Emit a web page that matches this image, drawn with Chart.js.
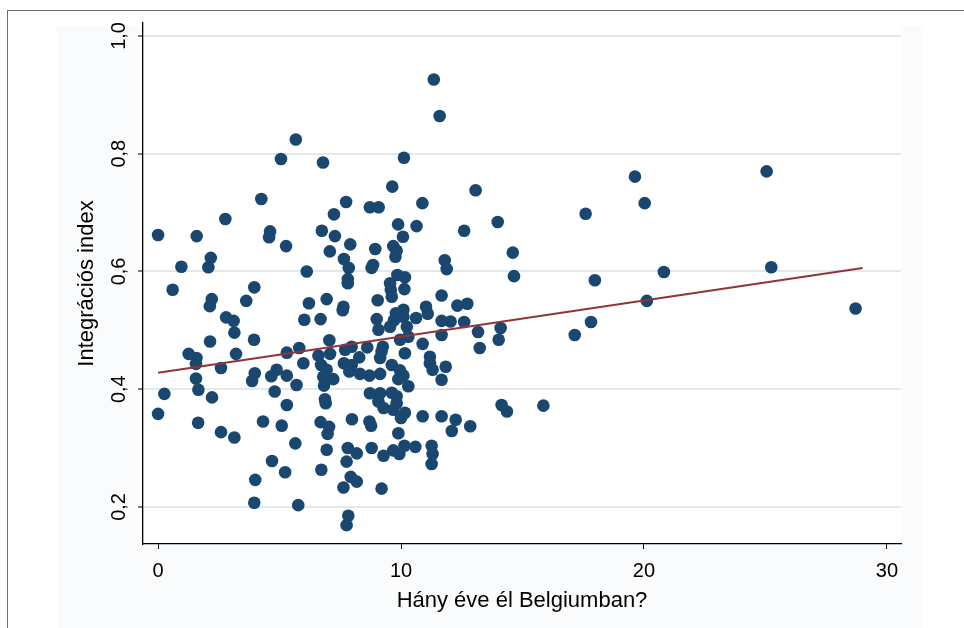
<!DOCTYPE html>
<html>
<head>
<meta charset="utf-8">
<script src="https://cdn.jsdelivr.net/npm/chart.js@4.4.1/dist/chart.umd.min.js"></script>
<style>
  html, body { margin: 0; padding: 0; background: #fff; }
  #wrap { position: relative; width: 964px; height: 628px; overflow: hidden; }
  #frame { position: absolute; left: 7px; top: 10px; right: -2px; bottom: -2px; border-top: 1px solid #6e6e6e; border-left: 1px solid #6e6e6e; }
  #tint { position: absolute; left: 57px; top: 26px; width: 866px; height: 602px; background: #f9fbfc; }
  canvas { position: absolute; left: 0; top: 0; }
</style>
</head>
<body>
<div id="wrap">
  <div id="frame"></div>
  <div id="tint"></div>
  <canvas id="chart" width="964" height="628"></canvas>
</div>
<script>
// tengelyek
const xTicks = [0, 10, 20, 30];
const yTicks = [0.2, 0.4, 0.6, 0.8, 1.0];

// Hány éve él Belgiumban?
const years = [
  13.07, 12.6, 13.98, 14.6, 14.65, 11.8, 11.88, 11.67, 12.32, 12.73, 11.67, 12.04, 12.6, 13.17, 14.1, 14.02, 13.24, 11.67, 11.84, 11.67,
  14.14, 14.36, 15.86, 11.67, 12.25, 12.09, 12.85, 17.15, 17.82, 17.6, 17.98, 19.63, 20.03, 20.82, 20.12, 25.05, 25.24, 28.71,
  5.67, 5.06, 4.25, 2.77, 0, 1.59, 4.61, 4.57, 5.27, 2.17,
  2.07, 0.96, 0.6, 3.96, 3.63, 2.21, 2.13, 2.8, 3.11, 3.14, 2.14, 3.95, 3.21, 1.26, 1.58, 1.56, 2.59, 1.56, 1.66, 2.22,
  0.26, 0, 1.65, 2.59, 3.14, 3.98, 3.87, 4.66, 4.88, 5.3, 5.3, 4.8, 5.3, 4.32, 5.09, 5.65, 4.69, 5.23, 4.0, 3.96, 5.77, 5.7,
  11.35, 11.59, 10.12, 6.79, 9.64, 7.74, 8.72, 9.08, 10.88, 7.24, 9.88, 10.64, 6.74, 7.28, 10.08, 7.91, 7.07, 8.94, 9.68, 9.82, 9.77, 7.65,
  7.85, 7.81, 7.81, 6.12, 8.79, 8.85, 9.85, 10.16, 9.55, 9.58, 10.14, 9.62, 6.94, 6.21, 9.04, 7.63, 7.6, 6.02, 6.69, 9.0,
  9.07, 9.79, 9.71, 10.1, 10.1, 10.24, 10.62, 11.03, 11.1, 9.55, 9.96, 10.3, 10.89, 10.16, 11.19, 11.19, 11.3, 7.05, 5.81, 6.6,
  7.08, 7.7, 7.97, 8.61, 9.25, 9.2, 8.28, 9.14, 5.98, 6.71, 7.65, 7.97, 9.62, 6.94, 7.87, 8.31, 8.7, 9.14, 9.96, 10.1,
  6.8, 7.21, 6.83, 9.89, 10.3, 8.72, 9.14, 9.62, 9.82, 6.87,
  6.9, 9.07, 9.28, 9.68, 9.82, 10.16, 10.0, 10.89, 6.69, 7.04, 6.98, 7.98, 8.7, 8.77, 9.89, 6.94, 7.81, 8.18, 8.79, 9.28,
  9.68, 9.93, 10.14, 10.59, 11.26, 11.3, 11.26, 7.76, 6.72, 7.93, 8.18, 7.63, 9.2, 7.83, 7.76
];

// Integrációs index
const integration = [
  0.738, 0.669, 0.684, 0.632, 0.592, 0.619, 0.604, 0.559, 0.542, 0.545, 0.516, 0.515, 0.514, 0.497, 0.504, 0.484, 0.470, 0.492, 0.438, 0.416,
  0.373, 0.362, 0.372, 0.354, 0.348, 0.329, 0.337, 0.492, 0.514, 0.698, 0.585, 0.761, 0.716, 0.599, 0.550, 0.770, 0.607, 0.537,
  0.824, 0.791, 0.723, 0.689, 0.662, 0.660, 0.668, 0.658, 0.643, 0.623,
  0.607, 0.608, 0.569, 0.573, 0.550, 0.553, 0.541, 0.522, 0.516, 0.496, 0.481, 0.484, 0.460, 0.460, 0.453, 0.443, 0.436, 0.418, 0.399, 0.386,
  0.392, 0.358, 0.343, 0.327, 0.318, 0.427, 0.414, 0.422, 0.433, 0.423, 0.462, 0.396, 0.373, 0.345, 0.338, 0.308, 0.278, 0.259, 0.246, 0.207, 0.203, 0.407,
  0.926, 0.864, 0.793, 0.785, 0.744, 0.718, 0.709, 0.709, 0.716, 0.697, 0.680, 0.677, 0.669, 0.660, 0.659, 0.646, 0.634, 0.638, 0.643, 0.635, 0.625, 0.621,
  0.606, 0.587, 0.580, 0.600, 0.606, 0.611, 0.594, 0.590, 0.580, 0.569, 0.570, 0.557, 0.553, 0.546, 0.551, 0.540, 0.534, 0.518, 0.519, 0.519,
  0.501, 0.529, 0.517, 0.535, 0.523, 0.506, 0.521, 0.540, 0.528, 0.506, 0.484, 0.489, 0.477, 0.461, 0.455, 0.444, 0.433, 0.483, 0.470, 0.457,
  0.460, 0.467, 0.472, 0.471, 0.472, 0.464, 0.454, 0.453, 0.444, 0.441, 0.444, 0.441, 0.441, 0.433, 0.430, 0.426, 0.423, 0.426, 0.432, 0.423,
  0.421, 0.417, 0.406, 0.417, 0.405, 0.393, 0.393, 0.394, 0.388, 0.383,
  0.376, 0.379, 0.368, 0.365, 0.376, 0.360, 0.351, 0.354, 0.344, 0.336, 0.324, 0.349, 0.345, 0.338, 0.325, 0.297, 0.300, 0.291, 0.300, 0.287,
  0.296, 0.290, 0.304, 0.302, 0.304, 0.290, 0.273, 0.277, 0.263, 0.251, 0.243, 0.233, 0.231, 0.185, 0.169
];

// illesztett egyenes (lfit) végpontjai
const fitX = [0, 29];
const fitY = [0.428, 0.606];

const tickFont = { family: "'Liberation Sans', Arial, sans-serif", size: 20 };
const titleFont = { family: "'Liberation Sans', Arial, sans-serif", size: 22 };

// a rajzterület fehér
const plotBg = {
  id: 'plotBg',
  beforeDraw(chart) {
    const { ctx, chartArea: a } = chart;
    ctx.save();
    ctx.fillStyle = '#ffffff';
    ctx.fillRect(a.left, a.top, a.right - a.left, a.bottom - a.top);
    ctx.restore();
  }
};

new Chart(document.getElementById('chart'), {
  type: 'scatter',
  data: {
    datasets: [
      {
        type: 'line',
        data: fitX.map((x, i) => ({ x: x, y: fitY[i] })),
        borderColor: '#90353b',
        borderWidth: 2,
        pointRadius: 0,
        fill: false,
        order: 0
      },
      {
        data: years.map((x, i) => ({ x: x, y: integration[i] })),
        backgroundColor: '#1a476f',
        borderWidth: 0,
        pointRadius: 6.3,
        pointHoverRadius: 6.3,
        order: 1
      }
    ]
  },
  options: {
    responsive: false,
    animation: false,
    devicePixelRatio: 1,
    layout: { padding: { top: 23, right: 63, left: 0, bottom: 0 } },
    plugins: { legend: { display: false }, tooltip: { enabled: false } },
    scales: {
      x: {
        type: 'linear',
        min: -0.62,
        max: 30.58,
        afterBuildTicks: s => { s.ticks = xTicks.map(v => ({ value: v })); },
        afterFit: s => { s.height = 84; },
        ticks: { color: '#000', font: tickFont, padding: 10, maxRotation: 0, autoSkip: false },
        grid: { drawOnChartArea: false, tickLength: 5, tickColor: '#000', tickWidth: 1 },
        border: { color: '#000', width: 1.3 },
        title: { display: true, text: 'Hány éve él Belgiumban?', color: '#000', font: titleFont, padding: { top: 0, bottom: 14 } }
      },
      y: {
        type: 'linear',
        min: 0.137,
        max: 1.022,
        afterBuildTicks: s => { s.ticks = yTicks.map(v => ({ value: v })); },
        afterFit: s => { s.width = 143; },
        ticks: {
          color: '#000', font: tickFont, padding: 5,
          minRotation: 90, maxRotation: 90, crossAlign: 'center', autoSkip: false,
          callback: v => v.toFixed(1).replace('.', ',')
        },
        grid: { color: '#e0eaed', lineWidth: 2, tickLength: 5, tickColor: '#000', tickWidth: 1 },
        border: { color: '#000', width: 1.3 },
        title: { display: true, text: 'Integrációs index', color: '#000', font: titleFont, padding: { top: 74, bottom: 0 } }
      }
    }
  },
  plugins: [plotBg]
});
</script>
</body>
</html>
